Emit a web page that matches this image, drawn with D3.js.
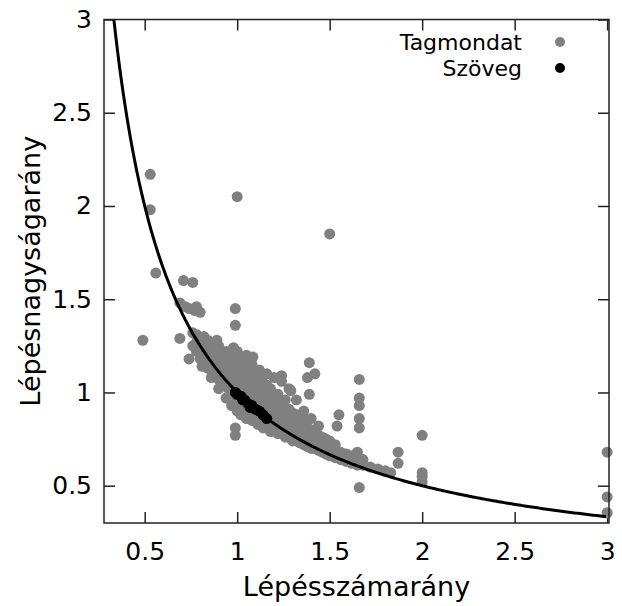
<!DOCTYPE html>
<html>
<head>
<meta charset="utf-8">
<script src="https://cdn.jsdelivr.net/npm/d3@7"></script>
<style>
  body { margin: 0; background: #fff; }
  svg { display: block; font-family: "DejaVu Sans", sans-serif; }
</style>
</head>
<body>
<div id="chart"></div>
<script>
//size
const width = 622;
const height = 606;
const margin = { top: 19.5, right: 13, bottom: 83, left: 104 };

//axis ranges and ticks
const xDomain = [0.28, 3.01];
const yDomain = [0.3, 3];
const xTicks = [0.5, 1, 1.5, 2, 2.5, 3];
const yTicks = [0.5, 1, 1.5, 2, 2.5, 3];

//labels
const xTitle = "Lépésszámarány";
const yTitle = "Lépésnagyságarány";
const seriesNames = ["Tagmondat", "Szöveg"];
const seriesColors = ["#808080", "#000000"];

//Tagmondat points [x, y]
const tagmondat = [
  [0.49, 1.28], [0.53, 2.17], [0.53, 1.98], [0.56, 1.64], [1.0, 2.05], [1.5, 1.85],
  [0.71, 1.6], [0.76, 1.59], [0.99, 1.45], [0.99, 1.36], [0.69, 1.29], [0.74, 1.18],
  [1.39, 1.16], [1.085, 1.19], [0.69, 1.48], [0.72, 1.46], [0.74, 1.45], [0.77, 1.44],
  [0.8, 1.43], [0.78, 1.46], [0.99, 0.81], [0.99, 0.77],
  [1.38, 1.08], [1.42, 1.1], [1.39, 0.99], [1.66, 1.07], [1.66, 0.97], [1.66, 0.93],
  [1.66, 0.86], [1.66, 0.81], [1.55, 0.88], [1.54, 0.82], [1.87, 0.68], [1.87, 0.62],
  [2.0, 0.77], [2.0, 0.57], [2.0, 0.55], [2.0, 0.52], [1.8, 0.58], [1.83, 0.57],
  [1.66, 0.49], [3.0, 0.68], [3.0, 0.44], [3.0, 0.355], [1.24, 1.09], [1.29, 1.01],
  [0.76, 1.25], [0.76, 1.32], [0.78, 1.22], [0.78, 1.27], [0.78, 1.31],
  [0.8, 1.18], [0.8, 1.24], [0.8, 1.29], [0.81, 1.14],
  [0.82, 1.16], [0.82, 1.21], [0.82, 1.26], [0.82, 1.3],
  [0.84, 1.13], [0.84, 1.19], [0.84, 1.24], [0.84, 1.28],
  [0.86, 1.08], [0.86, 1.12], [0.86, 1.17], [0.86, 1.22], [0.86, 1.26],
  [0.88, 1.09], [0.88, 1.14], [0.88, 1.19], [0.88, 1.24], [0.89, 1.28],
  [0.9, 1.02], [0.9, 1.07], [0.9, 1.12], [0.9, 1.17], [0.9, 1.22], [0.9, 1.25],
  [0.92, 1.05], [0.92, 1.1], [0.92, 1.15], [0.92, 1.2],
  [0.94, 0.97], [0.94, 1.03], [0.94, 1.08], [0.94, 1.13], [0.94, 1.18], [0.94, 1.22],
  [0.96, 1.01], [0.96, 1.06], [0.96, 1.11], [0.96, 1.16], [0.96, 1.2],
  [0.97, 0.93], [0.98, 0.99], [0.98, 1.04], [0.98, 1.09], [0.98, 1.14], [0.98, 1.24],
  [1.0, 0.9], [1.0, 0.96], [1.0, 1.01], [1.0, 1.06], [1.0, 1.11], [1.0, 1.17], [1.0, 1.22],
  [1.02, 0.88], [1.02, 0.95], [1.02, 1.0], [1.02, 1.05], [1.02, 1.1], [1.02, 1.15],
  [1.04, 0.93], [1.04, 0.98], [1.04, 1.03], [1.04, 1.08], [1.04, 1.13], [1.04, 1.18],
  [1.05, 0.86], [1.06, 0.91], [1.06, 0.96], [1.06, 1.01], [1.06, 1.06], [1.06, 1.11], [1.05, 1.2],
  [1.08, 0.85], [1.08, 0.9], [1.08, 0.95], [1.08, 1.0], [1.08, 1.05], [1.08, 1.1], [1.08, 1.15],
  [1.1, 0.88], [1.1, 0.93], [1.1, 0.98], [1.1, 1.03], [1.1, 1.08],
  [1.11, 0.83], [1.12, 0.87], [1.12, 0.92], [1.12, 0.97], [1.12, 1.02], [1.12, 1.07], [1.12, 1.12],
  [1.14, 0.81], [1.14, 0.85], [1.14, 0.9], [1.14, 0.95], [1.14, 1.0], [1.14, 1.05],
  [1.16, 0.84], [1.16, 0.89], [1.16, 0.94], [1.16, 0.99], [1.16, 1.04], [1.16, 1.1],
  [1.18, 0.79], [1.18, 0.82], [1.18, 0.87], [1.18, 0.92], [1.18, 0.97], [1.18, 1.02],
  [1.2, 0.81], [1.2, 0.86], [1.2, 0.91], [1.2, 0.96], [1.2, 1.08],
  [1.22, 0.78], [1.22, 0.8], [1.22, 0.85], [1.22, 0.9], [1.22, 0.95], [1.22, 0.99],
  [1.24, 0.78], [1.24, 0.83], [1.24, 0.88], [1.24, 0.93], [1.24, 1.06],
  [1.26, 0.76], [1.26, 0.82], [1.26, 0.87], [1.26, 0.92], [1.26, 0.96],
  [1.28, 0.76], [1.28, 0.81], [1.28, 0.86], [1.28, 0.91], [1.28, 1.02],
  [1.3, 0.74], [1.3, 0.8], [1.3, 0.85], [1.3, 0.89],
  [1.32, 0.74], [1.32, 0.79], [1.32, 0.84], [1.32, 0.88], [1.32, 0.96],
  [1.34, 0.73], [1.34, 0.78], [1.34, 0.83], [1.34, 0.87],
  [1.36, 0.72], [1.36, 0.77], [1.36, 0.82], [1.36, 0.9],
  [1.38, 0.71], [1.38, 0.76], [1.38, 0.81], [1.38, 0.85],
  [1.4, 0.7], [1.4, 0.75], [1.4, 0.8], [1.4, 0.86],
  [1.42, 0.7], [1.42, 0.74], [1.42, 0.79],
  [1.44, 0.69], [1.44, 0.73], [1.44, 0.77], [1.44, 0.82],
  [1.46, 0.68], [1.46, 0.72], [1.46, 0.76],
  [1.48, 0.67], [1.48, 0.71], [1.48, 0.75],
  [1.5, 0.66], [1.5, 0.7], [1.5, 0.74],
  [1.53, 0.65], [1.53, 0.69], [1.53, 0.72],
  [1.56, 0.64], [1.56, 0.68], [1.59, 0.63], [1.59, 0.67],
  [1.62, 0.62], [1.62, 0.66], [1.65, 0.61], [1.65, 0.64], [1.65, 0.68],
  [1.68, 0.61], [1.68, 0.64], [1.72, 0.6], [1.76, 0.59]
];

//Szöveg points [x, y]
const szoveg = [
  [0.99, 1.0], [1.0, 0.99], [1.02, 0.98], [1.03, 0.96], [1.04, 0.96], [1.06, 0.94],
  [1.07, 0.92], [1.08, 0.93], [1.1, 0.91], [1.12, 0.9], [1.14, 0.88], [1.16, 0.86]
];

//scales
const x = d3.scaleLinear().domain(xDomain).range([margin.left, width - margin.right]);
const y = d3.scaleLinear().domain(yDomain).range([height - margin.bottom, margin.top]);

const svg = d3
  .select("#chart")
  .append("svg")
  .attr("width", width)
  .attr("height", height);

const tickLen = 11;

//bottom axis with labels
svg
  .append("g")
  .attr("transform", `translate(0,${y.range()[0]})`)
  .call(d3.axisBottom(x).tickValues(xTicks).tickSize(-tickLen).tickPadding(19).tickFormat(d3.format("")))
  .call((g) => g.select(".domain").remove());

//left axis with labels
svg
  .append("g")
  .attr("transform", `translate(${x.range()[0]},0)`)
  .call(d3.axisLeft(y).tickValues(yTicks).tickSize(-tickLen).tickPadding(12).tickFormat(d3.format("")))
  .call((g) => g.select(".domain").remove());

//mirror ticks on top and right
svg
  .append("g")
  .attr("transform", `translate(0,${y.range()[1]})`)
  .call(d3.axisTop(x).tickValues(xTicks).tickSize(-tickLen).tickFormat(""))
  .call((g) => g.select(".domain").remove());

svg
  .append("g")
  .attr("transform", `translate(${x.range()[1]},0)`)
  .call(d3.axisRight(y).tickValues(yTicks).tickSize(-tickLen).tickFormat(""))
  .call((g) => g.select(".domain").remove());

svg
  .selectAll(".tick line")
  .attr("stroke", "#222")
  .attr("stroke-width", 1.5);

svg
  .selectAll(".tick text")
  .attr("font-family", "DejaVu Sans")
  .attr("font-size", 25)
  .attr("fill", "#000");

//gray points
svg
  .append("g")
  .selectAll("circle")
  .data(tagmondat)
  .join("circle")
  .attr("cx", (d) => x(d[0]))
  .attr("cy", (d) => y(d[1]))
  .attr("r", 5.5)
  .attr("fill", seriesColors[0]);

//y = 1/x curve
const curveX = d3.range(1 / 3, 3.0001, 0.01);
svg
  .append("path")
  .datum(curveX)
  .attr("fill", "none")
  .attr("stroke", "#000")
  .attr("stroke-width", 3)
  .attr("d", d3.line().x((d) => x(d)).y((d) => y(1 / d)));

//black points
svg
  .append("g")
  .selectAll("circle")
  .data(szoveg)
  .join("circle")
  .attr("cx", (d) => x(d[0]))
  .attr("cy", (d) => y(d[1]))
  .attr("r", 5.5)
  .attr("fill", seriesColors[1]);

//frame
svg
  .append("rect")
  .attr("x", x.range()[0])
  .attr("y", y.range()[1])
  .attr("width", x.range()[1] - x.range()[0])
  .attr("height", y.range()[0] - y.range()[1])
  .attr("fill", "none")
  .attr("stroke", "#222")
  .attr("stroke-width", 1.5);

//axis titles
svg
  .append("text")
  .attr("x", (x.range()[0] + x.range()[1]) / 2)
  .attr("y", 596)
  .attr("text-anchor", "middle")
  .attr("font-size", 27)
  .text(xTitle);

svg
  .append("text")
  .attr("transform", `translate(40,${(y.range()[0] + y.range()[1]) / 2}) rotate(-90)`)
  .attr("text-anchor", "middle")
  .attr("font-size", 27)
  .text(yTitle);

//legend
const legend = svg
  .append("g")
  .selectAll("g")
  .data(seriesNames)
  .join("g")
  .attr("transform", (d, i) => `translate(0,${42 + i * 26})`);

legend
  .append("text")
  .attr("x", 522)
  .attr("y", 8)
  .attr("text-anchor", "end")
  .attr("font-size", 22)
  .text((d) => d);

legend
  .append("circle")
  .attr("cx", 560)
  .attr("r", 5)
  .attr("fill", (d, i) => seriesColors[i]);
</script>
</body>
</html>
